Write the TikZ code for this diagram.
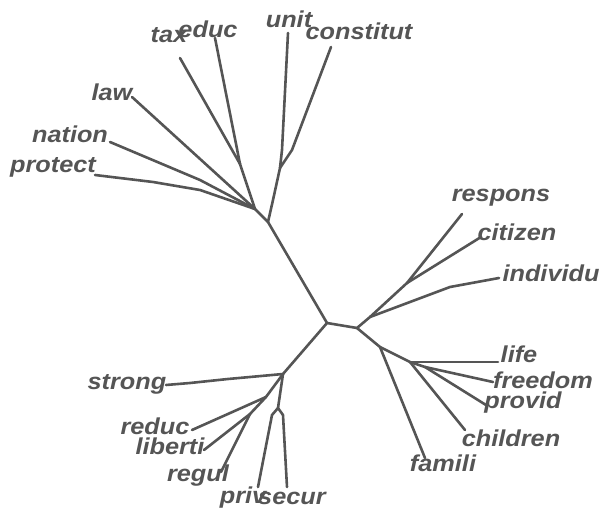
\documentclass[tikz,border=0pt]{standalone}
\usepackage{fontspec}
\setmainfont{Liberation Sans}[FakeStretch=1.1]
\definecolor{ink}{HTML}{555555}
\begin{document}
\begin{tikzpicture}[x=1pt,y=-1pt,
  branch/.style={draw=ink,line width=2.6pt,line join=round,line cap=round},
  leaf/.style={inner sep=0pt,text=ink,font=\fontsize{23}{23}\selectfont\bfseries\itshape}]
\useasboundingbox (0,0) rectangle (603,513);
% internal coordinates
\coordinate (h1) at (327,323);
\coordinate (h2) at (357,328);
\coordinate (u1) at (268,222);
\coordinate (u2) at (280,168);
\coordinate (u3) at (255,209);
\coordinate (u4) at (240,164);
\coordinate (a1) at (283,374);
\coordinate (c1) at (266,397);
\coordinate (d1) at (250,414);
\coordinate (e1) at (278,408);
\coordinate (r1) at (370,317);
\coordinate (r2) at (407,283);
\coordinate (l1) at (380,347);
\coordinate (l2) at (410,362);
\coordinate (l3) at (425,367);
% leaf tips
\coordinate (ttax) at (180,58);
\coordinate (teduc) at (215,38);
\coordinate (tunit) at (288,33);
\coordinate (tcons) at (331,47);
\coordinate (tlaw) at (132,97);
\coordinate (tnat) at (110,142);
\coordinate (tpro) at (95,175);
\coordinate (tresp) at (462,214);
\coordinate (tcit) at (481,237);
\coordinate (tind) at (499,278);
\coordinate (tlife) at (498,362);
\coordinate (tfree) at (493,382);
\coordinate (tprov) at (486,405);
\coordinate (tchil) at (465,430);
\coordinate (tfam) at (425,458);
\coordinate (tstr) at (166,385);
\coordinate (tred) at (192,430);
\coordinate (tlib) at (204,450);
\coordinate (treg) at (221,472);
\coordinate (tpriv) at (258,487);
\coordinate (tsec) at (287,487);
% labels
\node[leaf] (tax) at (169,35) {tax};
\node[leaf] (educ) at (208,29) {educ};
\node[leaf] (unit) at (289,19) {unit};
\node[leaf] (cons) at (359,31) {constitut};
\node[leaf] (law) at (112,92) {law};
\node[leaf] (nat) at (70,134) {nation};
\node[leaf] (pro) at (53,167) {protect};
\node[leaf] (resp) at (501,198) {respons};
\node[leaf] (cit) at (517,232) {citizen};
\node[leaf] (ind) at (551,273) {individu};
\node[leaf] (life) at (519,354) {life};
\node[leaf] (free) at (543,380) {freedom};
\node[leaf] (prov) at (523,403) {provid};
\node[leaf] (chil) at (511,438) {children};
\node[leaf] (fam) at (443,463) {famili};
\node[leaf] (str) at (127,384) {strong};
\node[leaf] (red) at (155,426) {reduc};
\node[leaf] (lib) at (170,446) {liberti};
\node[leaf] (reg) at (198,476) {regul};
\node[leaf] (priv) at (243,498) {priv};
\node[leaf] (sec) at (292,498) {secur};
% tree
\draw[branch] (h1) -- (h2);
\draw[branch] (h1) -- (u1);
\draw[branch] (u1) -- (273,200) -- (u2);
\draw[branch] (u2) -- (282,150) -- (tunit);
\draw[branch] (u2) -- (292,150) -- (tcons);
\draw[branch] (u1) -- (u3);
\draw[branch] (u3) -- (u4);
\draw[branch] (u4) -- (ttax);
\draw[branch] (u4) -- (teduc);
\draw[branch] (u3) -- (tlaw);
\draw[branch] (u3) -- (200,180) -- (tnat);
\draw[branch] (u3) -- (200,190) -- (153,182) -- (tpro);
\draw[branch] (h2) -- (r1);
\draw[branch] (r1) -- (410,302) -- (450,287) -- (tind);
\draw[branch] (r1) -- (r2);
\draw[branch] (r2) -- (tresp);
\draw[branch] (r2) -- (tcit);
\draw[branch] (h2) -- (l1);
\draw[branch] (l1) -- (tfam);
\draw[branch] (l1) -- (l2);
\draw[branch] (l2) -- (tlife);
\draw[branch] (l2) -- (tchil);
\draw[branch] (l2) -- (l3);
\draw[branch] (l3) -- (tfree);
\draw[branch] (l3) -- (tprov);
\draw[branch] (h1) -- (a1);
\draw[branch] (a1) -- (228,379) -- (190,383) -- (tstr);
\draw[branch] (a1) -- (c1);
\draw[branch] (c1) -- (tred);
\draw[branch] (c1) -- (d1);
\draw[branch] (d1) -- (tlib);
\draw[branch] (d1) -- (treg);
\draw[branch] (a1) -- (e1);
\draw[branch] (e1) -- (272,415) -- (tpriv);
\draw[branch] (e1) -- (283,415) -- (tsec);
\end{tikzpicture}
\end{document}
